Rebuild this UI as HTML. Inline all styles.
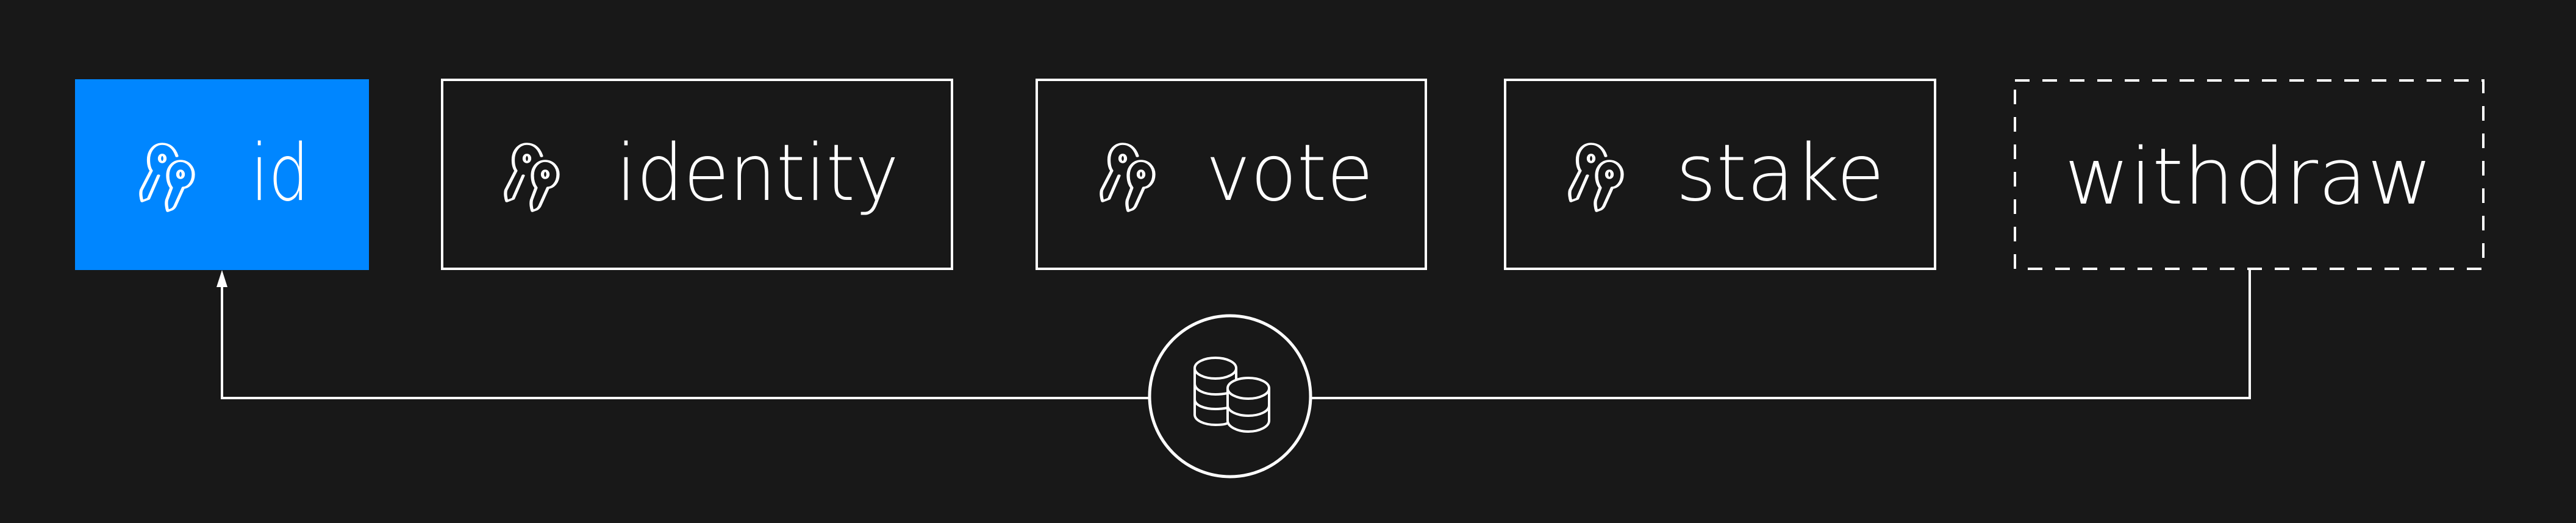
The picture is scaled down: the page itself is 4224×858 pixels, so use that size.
<!DOCTYPE html>
<html><head><meta charset="utf-8"><style>
html,body{margin:0;padding:0;background:#181818;}
svg{display:block}
text{font-family:"DejaVu Sans ExtraLight","DejaVu Sans","Liberation Sans",sans-serif;font-weight:200;fill:#fff;font-size:128px;}
</style></head><body>
<svg width="4224" height="858" viewBox="0 0 4224 858" xmlns="http://www.w3.org/2000/svg">
<defs>
<g id="keys" fill="none" stroke="#fff" stroke-width="3.5" stroke-linejoin="round" stroke-linecap="round" transform="scale(1.5,1)">
  <path d="M52,30 C49,16 43,10 36,10 C27,10 21,22 21,36 C21,44 22,50 24,54 L13,86 C12,92 13,100 14,104 L21,100 L32,62"/>
  <ellipse cx="36" cy="34" rx="3" ry="6"/>
  <path d="M46,82 C43,76 42,70 42,62 C42,48 48,38 56,38 C64,38 70,48 70,60 C70,74 64,82 59,82 L50,112 C48,118 45,118 42,120 C41,116 40,108 41,102 Z"/>
  <ellipse cx="56" cy="60" rx="3" ry="6"/>
</g>
</defs>
<rect x="0" y="0" width="4224" height="858" fill="#181818"/>
<rect x="123" y="130" width="482" height="313" fill="#0086ff"/>
<use href="#keys" x="212" y="226"/>
<text x="411" y="328" textLength="96" lengthAdjust="spacingAndGlyphs">id</text>
<rect x="725" y="131" width="836" height="310" fill="none" stroke="#fff" stroke-width="4"/>
<use href="#keys" x="810" y="226"/>
<text x="1010" y="328" textLength="464" lengthAdjust="spacingAndGlyphs">identity</text>
<rect x="1700" y="131" width="638" height="310" fill="none" stroke="#fff" stroke-width="4"/>
<use href="#keys" x="1787" y="226"/>
<text x="1977" y="328" textLength="275" lengthAdjust="spacingAndGlyphs">vote</text>
<rect x="2468" y="131" width="705" height="310" fill="none" stroke="#fff" stroke-width="4"/>
<use href="#keys" x="2555" y="226"/>
<text x="2748" y="328" textLength="342" lengthAdjust="spacingAndGlyphs">stake</text>
<rect x="3304" y="132" width="768" height="309" fill="none" stroke="#fff" stroke-width="4" stroke-dasharray="24 21"/>
<text x="3385" y="334" textLength="604" lengthAdjust="spacingAndGlyphs">withdraw</text>
<path d="M3689,442 L3689,653 L2151,653" fill="none" stroke="#fff" stroke-width="4"/>
<path d="M1884,653 L364,653 L364,462" fill="none" stroke="#fff" stroke-width="4"/>
<polygon points="364,443 355,471 373,471" fill="#fff"/>
<circle cx="2017" cy="650" r="132" fill="#181818" stroke="#fff" stroke-width="5"/>
<g fill="none" stroke="#fff" stroke-width="4">
  <ellipse cx="1993" cy="604" rx="34" ry="17"/>
  <path d="M1959,604 L1959,680 C1959,690 1975,697 1993,697 C2003,697 2010,696 2013,694"/>
  <path d="M1959,629 C1959,640 1975,647 1993,647 C2003,647 2008,646 2013,645"/>
  <path d="M1959,655 C1959,665 1975,671 1993,671 C2003,671 2008,670 2013,669"/>
  <path d="M2027,604 L2027,622"/>
  <ellipse cx="2047" cy="637" rx="34" ry="17"/>
  <path d="M2013,637 L2013,690 C2013,700 2029,708 2047,708 C2065,708 2081,700 2081,690 L2081,637"/>
  <path d="M2013,665 C2013,675 2029,682 2047,682 C2065,682 2081,675 2081,665"/>
</g>
</svg>
</body></html>
